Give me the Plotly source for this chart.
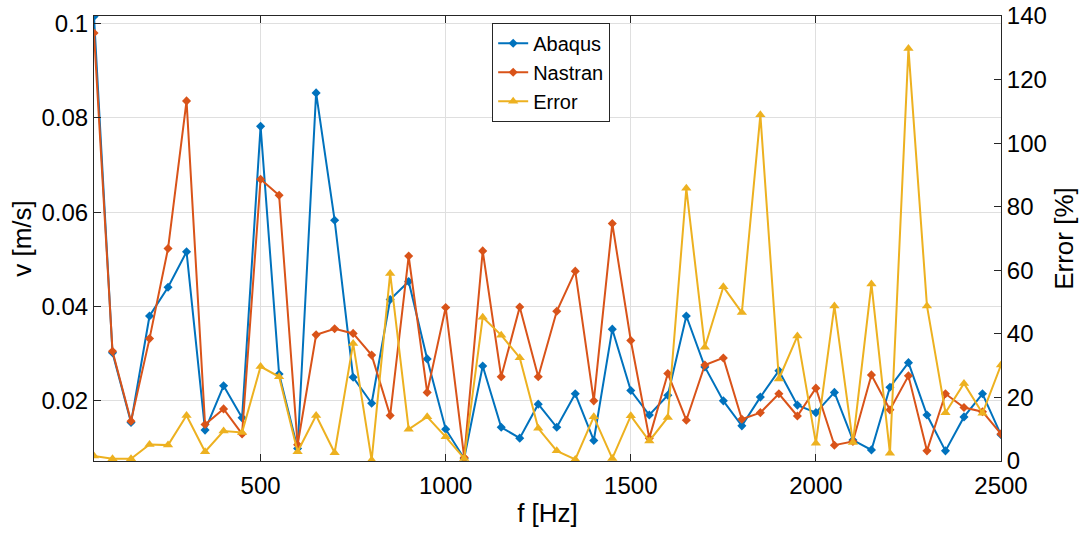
import plotly.graph_objects as go

freq = list(range(50, 2501, 50))

abaqus = [0.1015, 0.0302, 0.0154, 0.0380, 0.0441, 0.0516, 0.0138, 0.0232, 0.0164, 0.0782,
          0.0257, 0.0099, 0.0853, 0.0583, 0.0250, 0.0195, 0.0415, 0.0453, 0.0289, 0.0140,
          0.0078, 0.0274, 0.0144, 0.0121, 0.0193, 0.0144, 0.0215, 0.0116, 0.0352, 0.0222,
          0.0170, 0.0212, 0.0380, 0.0272, 0.0200, 0.0147, 0.0208, 0.0264, 0.0191, 0.0175,
          0.0218, 0.0117, 0.0096, 0.0229, 0.0281, 0.0170, 0.0094, 0.0166, 0.0215, 0.0128]

nastran = [0.0980, 0.0305, 0.0157, 0.0332, 0.0523, 0.0836, 0.0150, 0.0183, 0.0130, 0.0670,
           0.0636, 0.0107, 0.0340, 0.0353, 0.0343, 0.0297, 0.0169, 0.0507, 0.0218, 0.0398,
           0.0080, 0.0518, 0.0251, 0.0399, 0.0251, 0.0390, 0.0475, 0.0200, 0.0576, 0.0328,
           0.0121, 0.0258, 0.0159, 0.0276, 0.0291, 0.0161, 0.0175, 0.0215, 0.0168, 0.0227,
           0.0106, 0.0114, 0.0255, 0.0181, 0.0253, 0.0094, 0.0215, 0.0186, 0.0177, 0.0130]

error = [1.6, 0.7, 0.7, 5.2, 5.0, 14.3, 2.9, 9.4, 9.0, 29.7,
         26.5, 2.9, 14.3, 2.6, 37.0, 0.3, 59.0, 10.0, 13.9, 7.6,
         0.8, 45.2, 39.6, 32.5, 10.3, 3.2, 0.5, 13.9, 0.8, 14.2,
         6.3, 13.7, 85.8, 35.8, 54.8, 46.7, 108.9, 25.8, 39.3, 5.6,
         48.8, 5.8, 55.7, 2.4, 129.8, 48.8, 15.2, 24.4, 15.0, 30.2]

x_ticks = [500, 1000, 1500, 2000, 2500]
v_ticks = [0.02, 0.04, 0.06, 0.08, 0.1]
v_ticktext = ["0.02", "0.04", "0.06", "0.08", "0.1"]
err_ticks = [0, 20, 40, 60, 80, 100, 120, 140]

FONT = "Liberation Sans, Arial, Helvetica, sans-serif"
AX = "#262626"
GRID = "#dfdfdf"
TICKF = dict(size=24, color="black")
TITLEF = dict(size=26, color="black")

fig = go.Figure()
fig.add_trace(go.Scatter(x=freq, y=abaqus, name="Abaqus", mode="lines+markers",
                         line=dict(color="#0072BD", width=2),
                         marker=dict(symbol="diamond", size=7, color="#0072BD")))
fig.add_trace(go.Scatter(x=freq, y=nastran, name="Nastran", mode="lines+markers",
                         line=dict(color="#D95319", width=2),
                         marker=dict(symbol="diamond", size=7, color="#D95319")))
fig.add_trace(go.Scatter(x=freq, y=error, name="Error", mode="lines+markers", yaxis="y2",
                         line=dict(color="#EDB120", width=2),
                         marker=dict(symbol="triangle-up", size=9, color="#EDB120")))

fig.update_layout(
    width=1087, height=534,
    margin=dict(l=94, r=86, t=16, b=73),
    paper_bgcolor="white", plot_bgcolor="white",
    font=dict(family=FONT, size=20, color=AX),
    showlegend=True,
    legend=dict(x=0.439, y=0.985, xanchor="left", yanchor="top",
                bgcolor="white", bordercolor=AX, borderwidth=1,
                font=dict(size=20, color="black"), itemwidth=30,
                tracegroupgap=0),
    xaxis=dict(range=[50, 2500], tickvals=x_ticks, ticks="inside", ticklen=7,
               tickcolor=AX, showline=True, linecolor=AX, linewidth=1, mirror="ticks",
               showgrid=True, gridcolor=GRID, gridwidth=1, zeroline=False,
               automargin=False, ticklabelstandoff=3,
               title=dict(text="f [Hz]", font=TITLEF, standoff=6),
               tickfont=TICKF),
    yaxis=dict(range=[0.00725, 0.1016], tickvals=v_ticks, ticktext=v_ticktext,
               ticks="inside", ticklen=7, tickcolor=AX, showline=True, linecolor=AX,
               linewidth=1, mirror=False, showgrid=True, gridcolor=GRID, gridwidth=1,
               zeroline=False, automargin=False,
               title=dict(text="v [m/s]", font=TITLEF, standoff=2),
               tickfont=TICKF),
    yaxis2=dict(range=[0, 140], tickvals=err_ticks, overlaying="y", side="right",
                ticks="inside", ticklen=7, tickcolor=AX, showline=True, linecolor=AX,
                linewidth=1, showgrid=False, zeroline=False, automargin=False,
                title=dict(text="Error [%]", font=TITLEF, standoff=8),
                tickfont=TICKF),
)

fig.write_html("out.html")
